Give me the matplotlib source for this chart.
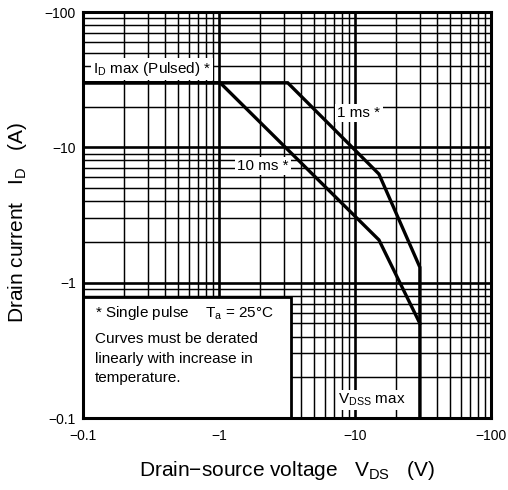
import matplotlib
matplotlib.use("Agg")
import matplotlib.pyplot as plt
from matplotlib.ticker import FixedLocator, FixedFormatter, LogLocator, NullFormatter
from matplotlib.patches import Rectangle

plt.rcParams['font.family'] = ['Liberation Sans', 'DejaVu Sans']
plt.rcParams['mathtext.fontset'] = 'custom'
plt.rcParams['mathtext.rm'] = 'Liberation Sans'
plt.rcParams['mathtext.it'] = 'Liberation Sans:italic'

# Safe operating area (magnitudes; labels carry the negative sign)
v_1ms = [0.1, 3.2, 15, 30, 30]
i_1ms = [30, 30, 6.35, 1.3, 0.1]
v_10ms = [0.1, 1.02, 15, 30]
i_10ms = [30, 30, 2.07, 0.5]

tick_values = [0.1, 1, 10, 100]
tick_labels = ["\u22120.1", "\u22121", "\u221210", "\u2212100"]

fig = plt.figure(figsize=(5.08, 4.90), dpi=100)
ax = fig.add_axes([0.1634, 0.1469, 0.8031, 0.8286])
ax.set_xscale('log')
ax.set_yscale('log')
ax.set_xlim(0.1, 100)
ax.set_ylim(0.1, 100)

for axis in (ax.xaxis, ax.yaxis):
    axis.set_major_locator(FixedLocator(tick_values))
    axis.set_major_formatter(FixedFormatter(tick_labels))
    axis.set_minor_locator(LogLocator(base=10, subs=range(2, 10)))
    axis.set_minor_formatter(NullFormatter())

ax.grid(which='major', color='black', linewidth=1.9, zorder=1)
ax.grid(which='minor', color='black', linewidth=1.05, zorder=1)
ax.set_axisbelow(True)
ax.tick_params(which='both', length=0)
ax.tick_params(axis='x', pad=8, labelsize=10)
ax.tick_params(axis='y', pad=5, labelsize=10)
for s in ax.spines.values():
    s.set_linewidth(2.2)
    s.set_zorder(6)

ax.plot(v_1ms, i_1ms, color='black', linewidth=2.4, zorder=4, solid_joinstyle='miter')
ax.plot(v_10ms, i_10ms, color='black', linewidth=2.4, zorder=4, solid_joinstyle='miter')

lbl = dict(fontsize=11, color='black', zorder=5,
           bbox=dict(facecolor='white', edgecolor='none', pad=1.5))
ax.text(0.321, 37.9, r"I$_{\mathrm{D}}$ max (Pulsed) *", ha='center', va='center', **lbl)
ax.text(10.7, 17.9, "1 ms *", ha='center', va='center', **lbl)
ax.text(2.11, 7.28, "10 ms *", ha='center', va='center', **lbl)
ax.text(13.3, 0.136, r"V$_{\mathrm{DSS}}$ max", ha='center', va='center', **lbl)

# Note box in the lower-left corner
box = Rectangle((0, 0), 0.51, 0.298, transform=ax.transAxes, facecolor='white',
                edgecolor='black', linewidth=2.0, zorder=5)
ax.add_patch(box)
note_x = 0.03
ax.text(note_x, 0.259, r"* Single pulse    T$_{\mathrm{a}}$ = 25°C", transform=ax.transAxes,
        fontsize=11, ha='left', va='center', zorder=6)
ax.text(note_x, 0.195, "Curves must be derated", transform=ax.transAxes,
        fontsize=11, ha='left', va='center', zorder=6)
ax.text(note_x, 0.146, "linearly with increase in", transform=ax.transAxes,
        fontsize=11, ha='left', va='center', zorder=6)
ax.text(note_x, 0.099, "temperature.", transform=ax.transAxes,
        fontsize=11, ha='left', va='center', zorder=6)

fig.text(0.565, 0.0408, r"Drain$-$source voltage   V$_{\mathrm{DS}}$   (V)",
         fontsize=15, ha='center', va='center')
fig.text(0.0335, 0.545, r"Drain current   I$_{\mathrm{D}}$   (A)",
         fontsize=15, ha='center', va='center', rotation=90)

fig.savefig("out.png", dpi=100)
